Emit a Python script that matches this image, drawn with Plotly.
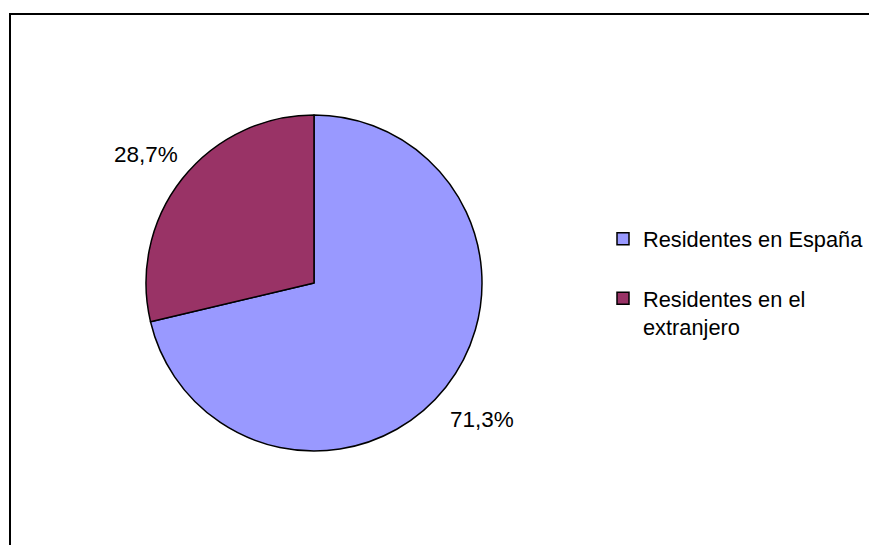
import math
import plotly.graph_objects as go

# datos
etiquetas = ['Residentes en España', 'Residentes en el extranjero']
porcentajes = [71.3, 28.7]
colores = ['#9999FF', '#993366']

W, H = 877, 545
OFF = 8  # margen del body de la pagina
# centro y radio de la tarta en pixeles (coordenadas de pantalla)
CX, CY, R = 314 - OFF, 283 - OFF, 168
R_ETIQ = 214

fig = go.Figure()

fig.add_trace(go.Pie(
    labels=[etiquetas[0] + '<br> ', 'Residentes en el<br>extranjero'],
    values=porcentajes,
    sort=False, direction='clockwise', rotation=0,
    marker=dict(colors=colores, line=dict(color='black', width=1.5)),
    textinfo='none', hoverinfo='label+percent',
    domain=dict(x=[(CX - R) / W, (CX + R) / W], y=[(H - CY - R) / H, (H - CY + R) / H]),
))

# etiquetas de porcentaje fuera de cada sector
total = sum(porcentajes)
acum = 0
for v in porcentajes:
    medio = (acum + v / 2) / total * 2 * math.pi
    acum += v
    px = CX + R_ETIQ * math.sin(medio)
    py = CY - R_ETIQ * math.cos(medio) + 4
    fig.add_annotation(x=px / W, y=1 - py / H, xref='paper', yref='paper',
                       text=f'{v:.1f}%'.replace('.', ','), showarrow=False,
                       xanchor='center', yanchor='middle',
                       font=dict(size=22.5, color='black'))

# marco del grafico
fig.add_shape(type='rect', xref='paper', yref='paper',
              x0=(10 - OFF) / W, x1=1.05, y0=-0.05, y1=1 - (14 - OFF) / H,
              line=dict(color='black', width=2))

fig.update_layout(
    width=W, height=H,
    margin=dict(l=0, r=0, t=0, b=0),
    paper_bgcolor='white', plot_bgcolor='white',
    font=dict(family='Arial, Liberation Sans, sans-serif', size=22.5, color='black'),
    legend=dict(x=(603 - OFF) / W, y=1 - (218 - OFF) / H, xanchor='left', yanchor='top',
                valign='top', font=dict(size=21.8), bgcolor='rgba(0,0,0,0)'),
)

fig.write_html('out.html')
